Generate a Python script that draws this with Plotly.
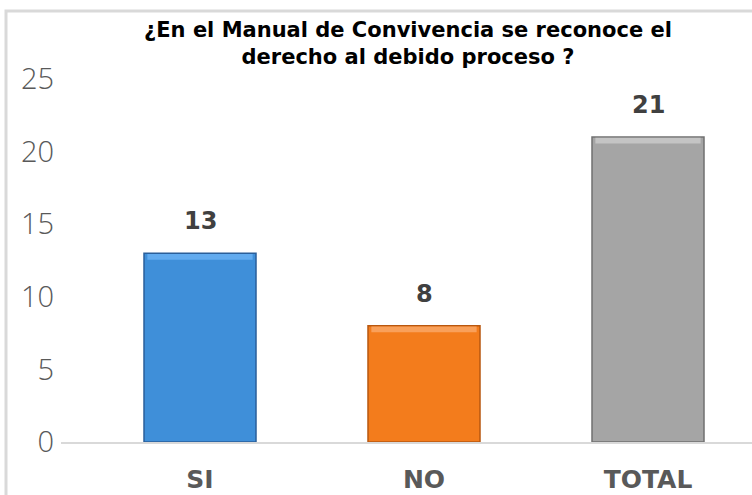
import plotly.graph_objects as go

# ── Datos ─────────────────────────────────────
categorias = ["SI", "NO", "TOTAL"]
valores = [13, 8, 21]
colores = ["#3f8fd9", "#f37c1c", "#a5a5a5"]
bordes = ["#2a5f9a", "#b8570f", "#707070"]
brillos = ["#62abef", "#f9a05a", "#c4c4c4"]
y_ticks = [0, 5, 10, 15, 20, 25]

titulo = "¿En el Manual de Convivencia se reconoce el<br>derecho al debido proceso ?"

W, H = 752, 495
L, R, T, B = 61, 0, 79, 53
pw, ph = W - L - R, H - T - B

fig = go.Figure()

# barras principales
fig.add_trace(go.Bar(
    x=categorias, y=valores, width=0.5,
    marker=dict(color=colores, line=dict(color=bordes, width=1.5)),
    showlegend=False, hoverinfo="x+y",
))
# brillo superior (efecto bisel)
fig.add_trace(go.Bar(
    x=categorias, y=[0.4] * len(valores), base=[v - 0.45 for v in valores],
    width=0.47,
    marker=dict(color=brillos, line=dict(width=0)),
    showlegend=False, hoverinfo="skip",
))

# etiquetas de datos
for c, v in zip(categorias, valores):
    fig.add_annotation(
        x=c, y=v, text=f"<b>{v}</b>", showarrow=False,
        yanchor="bottom", yshift=16,
        font=dict(family="DejaVu Sans", size=24, color="#404040"),
    )

# marco del gráfico
fig.add_shape(
    type="rect", xref="paper", yref="paper",
    x0=(6 - L) / pw, x1=1.02, y0=-0.3, y1=(H - B - 11) / ph,
    line=dict(color="#d9d9d9", width=3), layer="below",
)

fig.update_layout(
    width=W, height=H,
    margin=dict(l=L, r=R, t=T, b=B),
    paper_bgcolor="white", plot_bgcolor="white",
    barmode="overlay",
    title=dict(
        text=f"<b>{titulo}</b>",
        x=408 / W, xanchor="center",
        y=1 - 37 / H, yanchor="middle",
        font=dict(family="DejaVu Sans", size=21, color="#000000"),
    ),
)

fig.update_xaxes(
    range=[(L - 200) / 224, (W - 200) / 224],
    showline=True, linecolor="#d9d9d9", linewidth=2,
    showgrid=False, zeroline=False,
    tickfont=dict(family="DejaVu Sans", size=25, color="#595959", weight="bold"),
    ticklabelstandoff=14,
)
fig.update_yaxes(
    range=[0, 25], tickvals=y_ticks,
    showgrid=False, zeroline=False, showline=False,
    tickfont=dict(family="Open Sans, Liberation Sans", size=29, color="#595959", weight=300),
    ticklabelstandoff=6,
)

fig.write_html(
    "out.html",
    config={"displayModeBar": False},
    post_script="document.body.style.margin='0';",
)
